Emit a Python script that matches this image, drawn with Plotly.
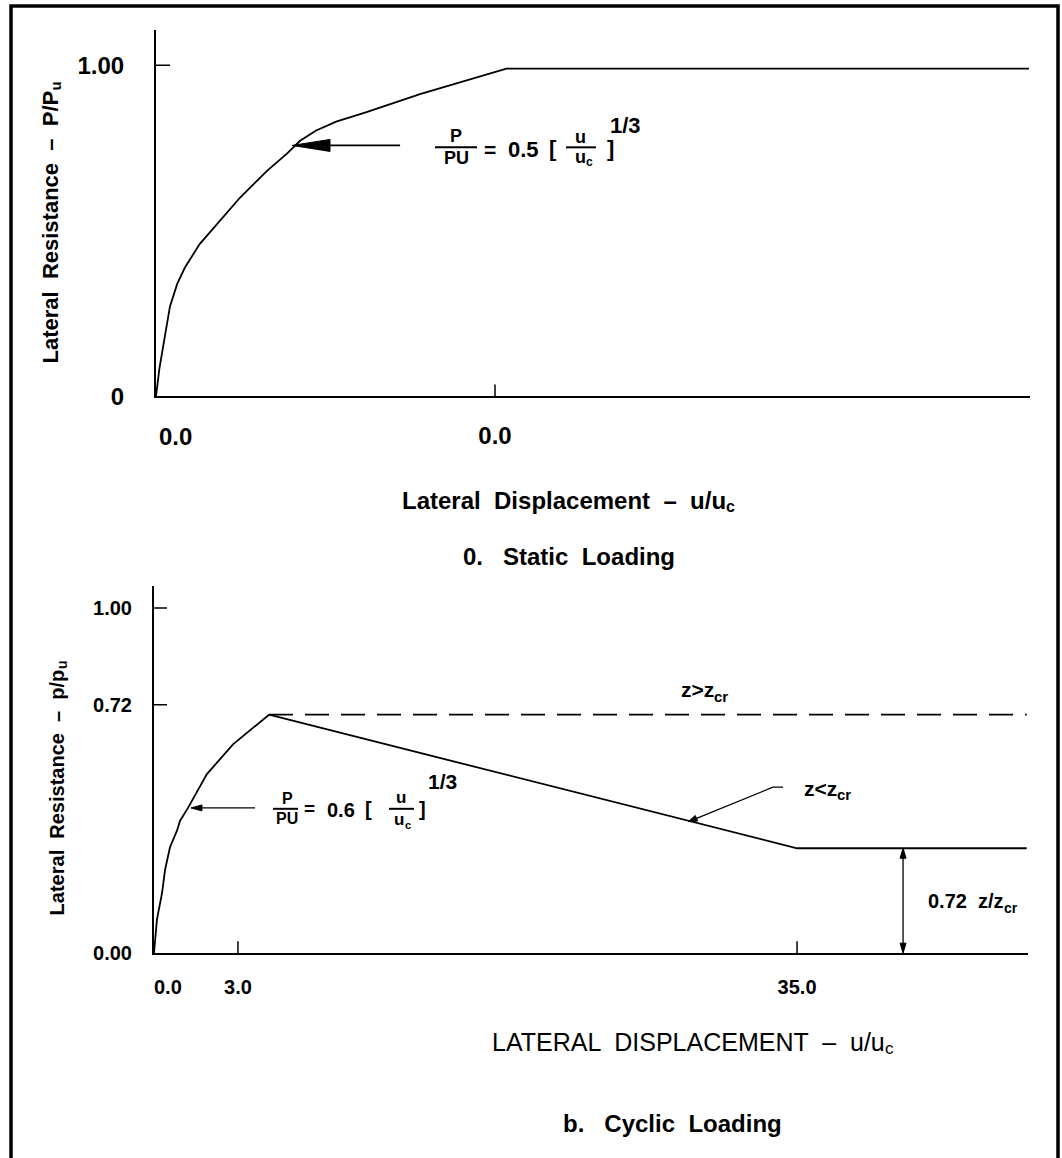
import plotly.graph_objects as go

W, H = 1062, 1158
FONT = "Liberation Sans, Arial, sans-serif"

# ---------------- Panel a : static loading ----------------
static_u = [0, 0.08, 0.21, 0.33, 0.50, 0.69, 1.03, 1.44, 1.98, 2.62, 3.09, 3.40,
            3.78, 4.25, 4.95, 6.23, 8.27, 20.6]
static_p = [0, 0.084, 0.182, 0.272, 0.340, 0.391, 0.460, 0.519, 0.600, 0.681, 0.733, 0.772,
            0.803, 0.830, 0.858, 0.913, 0.99, 0.99]
static_x_tickvals = [0, 8]
static_x_ticktext = ["0.0", "0.0"]
static_y_tickvals = [0, 1.0]
static_y_ticktext = ["0", "1.00"]

# ---------------- Panel b : cyclic loading ----------------
cyc_rise_u = [0, 0.16, 0.44, 0.60, 0.87, 1.25, 1.42, 1.85, 2.88, 4.30, 6.26]
cyc_rise_p = [0, 0.097, 0.175, 0.241, 0.307, 0.355, 0.384, 0.421, 0.519, 0.605, 0.691]
deep_u = [6.26, 35.0, 47.5]          # z < z_cr
deep_p = [0.691, 0.304, 0.304]
shallow_u = [6.26, 47.5]             # z > z_cr
shallow_p = [0.691, 0.691]
cyc_x_tickvals = [0, 4.57, 35.0]
cyc_x_ticktext = ["0.0", "3.0", "35.0"]
cyc_y_tickvals = [0, 0.72, 1.0]
cyc_y_ticktext = ["0.00", "0.72", "1.00"]


def PX(x):
    return x / W


def PY(y):
    return 1 - y / H


fig = go.Figure()
LINE = dict(color="black", width=1.8)
fig.add_trace(go.Scatter(x=static_u, y=static_p, mode="lines", line=LINE,
                         xaxis="x", yaxis="y", hoverinfo="skip"))
fig.add_trace(go.Scatter(x=cyc_rise_u, y=cyc_rise_p, mode="lines", line=LINE,
                         xaxis="x2", yaxis="y2", hoverinfo="skip"))
fig.add_trace(go.Scatter(x=deep_u, y=deep_p, mode="lines", line=LINE,
                         xaxis="x2", yaxis="y2", hoverinfo="skip"))
fig.add_trace(go.Scatter(x=shallow_u, y=shallow_p, mode="lines",
                         line=dict(color="black", width=1.8, dash="24px,12px"),
                         xaxis="x2", yaxis="y2", hoverinfo="skip"))


def axis(domain, rng, anchor, tickvals, ticktext, size, standoff):
    return dict(domain=domain, range=rng, anchor=anchor, showgrid=False, zeroline=False,
                showline=True, linecolor="black", linewidth=2, ticks="",
                tickmode="array", tickvals=tickvals, ticktext=ticktext,
                tickfont=dict(family=FONT, size=size, color="black", weight="bold"),
                ticklabelstandoff=standoff, fixedrange=True)


fig.update_layout(
    width=W, height=H, margin=dict(l=0, r=0, t=0, b=0),
    paper_bgcolor="white", plot_bgcolor="white", showlegend=False,
    xaxis=axis([PX(156), PX(1030)], [0, 20.625], "y",
               static_x_tickvals[1:], static_x_ticktext[1:], 24, 17),
    yaxis=axis([PY(401), PY(30)], [0, 1.1075], "x",
               static_y_tickvals, static_y_ticktext, 24, 25),
    xaxis2=axis([PX(154), PX(1028)], [0, 47.57], "y2",
                cyc_x_tickvals[1:], cyc_x_ticktext[1:], 20, 15),
    yaxis2=axis([PY(964), PY(593)], [0, 1.063], "x2",
                cyc_y_tickvals, cyc_y_ticktext, 20, 16),
)

shapes = []
# frame
shapes.append(dict(type="rect", xref="paper", yref="paper", x0=PX(11), x1=PX(1058),
                   y0=PY(1175), y1=PY(6), line=dict(color="black", width=3.5)))


def xtick(xr, yr, v, lo, hi):
    return dict(type="line", xref=xr, yref=yr, x0=v, x1=v, ysizemode="pixel", yanchor=0,
                y0=lo, y1=hi, line=dict(color="black", width=1.5))


def ytick(xr, yr, v, lo, hi):
    return dict(type="line", xref=xr, yref=yr, y0=v, y1=v, xsizemode="pixel", xanchor=0,
                x0=lo, x1=hi, line=dict(color="black", width=1.5))


for v in static_x_tickvals[1:]:
    shapes.append(xtick("x", "y", v, -12, 12))
for v in static_y_tickvals[1:]:
    shapes.append(ytick("x", "y", v, -10, 14))
for v in cyc_x_tickvals[1:]:
    shapes.append(xtick("x2", "y2", v, -12, 12))
for v in cyc_y_tickvals[1:]:
    shapes.append(ytick("x2", "y2", v, -11, 13))


def bar(x0, x1, y):
    return dict(type="line", xref="paper", yref="paper", x0=PX(x0), x1=PX(x1),
                y0=PY(y), y1=PY(y), line=dict(color="black", width=2))


shapes += [bar(435, 477, 149), bar(566, 596, 149), bar(273, 298, 818), bar(389, 414, 818)]


def seg(xr, yr, x0, y0, x1, y1, w=1.4):
    return dict(type="line", xref=xr, yref=yr, x0=x0, y0=y0, x1=x1, y1=y1,
                line=dict(color="black", width=w))


def head(xr, yr, x, y, path):
    return dict(type="path", xref=xr, yref=yr, xsizemode="pixel", ysizemode="pixel",
                xanchor=x, yanchor=y, path=path, fillcolor="black",
                line=dict(color="black", width=1))


# formula arrow, panel a
shapes.append(seg("x", "y", 3.6, 0.758, 5.76, 0.758, 1.6))
shapes.append(head("x", "y", 3.21, 0.758, "M0,0 L38,-6 L38,6 Z"))
# formula arrow, panel b
shapes.append(seg("x2", "y2", 2.3, 0.421, 5.50, 0.421, 1.3))
shapes.append(head("x2", "y2", 2.01, 0.421, "M0,0 L11,-3 L11,3 Z"))
# z<zcr leader
shapes.append(seg("x2", "y2", 33.69, 0.481, 34.24, 0.481, 1.3))
shapes.append(seg("x2", "y2", 29.4, 0.388, 33.69, 0.481, 1.3))
shapes.append(head("x2", "y2", 29.07, 0.381, "M0,0 L7.2,6.2 L9.5,0.6 Z"))
# double arrow 0.72 z/zcr
shapes.append(seg("x2", "y2", 40.77, 0.02, 40.77, 0.284, 1.3))
shapes.append(head("x2", "y2", 40.77, 0.304, "M0,0 L-3,-10 L3,-10 Z"))
shapes.append(head("x2", "y2", 40.77, 0.0, "M0,0 L-3,10 L3,10 Z"))
fig.update_layout(shapes=shapes)

ann = []


def txt(x, y, s, size, bold=True, angle=0, xa="center", ya="middle"):
    f = dict(family=FONT, size=size, color="black")
    if bold:
        f["weight"] = "bold"
    ann.append(dict(x=PX(x), y=PY(y), xref="paper", yref="paper", text=s, showarrow=False,
                    font=f, textangle=angle, xanchor=xa, yanchor=ya,
                    borderpad=0, borderwidth=0))


# ---- panel a text ----
txt(50, 92, "Lateral  Resistance  –  P/P", 22, angle=-90, ya="top")
txt(55, 92, "u", 15, angle=-90, ya="bottom")
txt(175, 441, static_x_ticktext[0], 24)
txt(726, 506, "Lateral  Displacement  –  u/u", 24, xa="right")
txt(726, 512, "c", 16, xa="left")
txt(569, 563, "0.   Static  Loading", 24)
# formula P/PU = 0.5 [u/uc]^(1/3)
txt(456, 138, "P", 18)
txt(456, 160, "PU", 18)
txt(490, 151, "=", 21)
txt(523, 151, "0.5", 22)
txt(553, 150, "[", 22)
txt(580, 139, "u", 18)
txt(580, 159, "u", 18)
txt(586, 164, "c", 12, xa="left")
txt(610, 150, "]", 22)
txt(625, 127, "1/3", 22)

# ---- panel b text ----
txt(57, 677, "Lateral  Resistance  –  p/p", 20, angle=-90, ya="top")
txt(62, 677, "u", 14, angle=-90, ya="bottom")
txt(168, 998, cyc_x_ticktext[0], 20)
txt(885, 1054, "LATERAL  DISPLACEMENT  –  u/u", 25, bold=False, xa="right")
txt(885, 1060, "c", 17, bold=False, xa="left")
txt(672, 1136, "b.   Cyclic  Loading", 24)
txt(714, 697, "z&gt;z", 21, xa="right")
txt(714, 704, "cr", 15, xa="left")
txt(837, 797, "z&lt;z", 21, xa="right")
txt(837, 804, "cr", 15, xa="left")
txt(1004, 911, "0.72  z/z", 20, xa="right")
txt(1004, 918, "cr", 14, xa="left")
# formula P/PU = 0.6 [u/uc]^(1/3)
txt(287, 808, "P", 16)
txt(287, 828, "PU", 16)
txt(309, 818, "=", 19)
txt(341, 819, "0.6", 20)
txt(368, 818, "[", 20)
txt(401, 807, "u", 17)
txt(399, 829, "u", 17)
txt(405, 834, "c", 11, xa="left")
txt(422, 818, "]", 20)
txt(442, 790, "1/3", 21)
fig.update_layout(annotations=ann)

fig.write_html("out.html", config={"displayModeBar": False},
               post_script="document.body.style.margin='0px';"
                           "document.body.style.overflow='hidden';")
